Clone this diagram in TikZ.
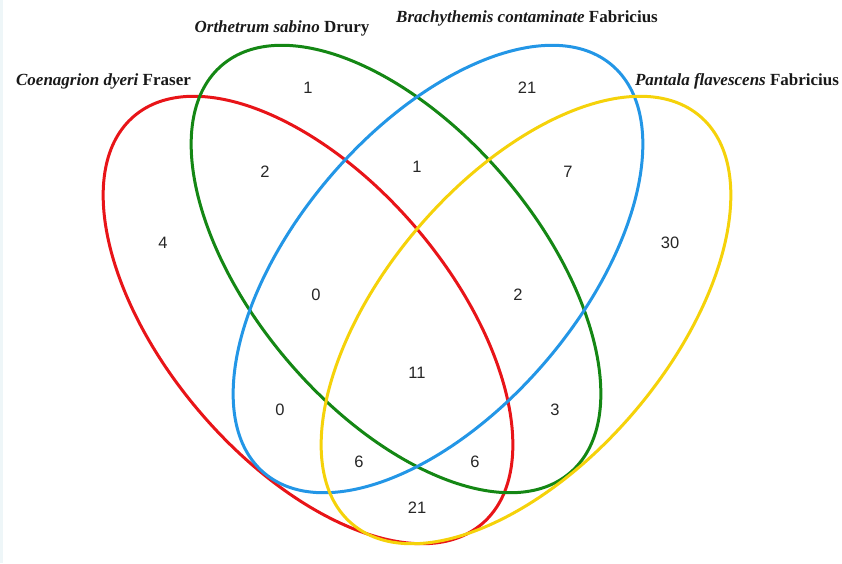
\documentclass[tikz,border=0pt]{standalone}
\usepackage{fontspec}
\setmainfont{Liberation Serif}
\newfontfamily\numfont{Liberation Sans}
\definecolor{vred}{RGB}{232,20,24}
\definecolor{vgreen}{RGB}{20,135,20}
\definecolor{vblue}{RGB}{35,150,230}
\definecolor{vyellow}{RGB}{245,210,10}
\definecolor{edgecyan}{RGB}{238,246,248}
\begin{document}
\begin{tikzpicture}[x=1pt,y=-1pt,
  set/.style={line width=3pt},
  num/.style={font=\numfont\fontsize{16.5}{18}\selectfont, text=black!85, inner sep=0pt},
  lab/.style={font=\fontsize{17}{20}\selectfont\bfseries, text=black!90, inner sep=0pt}]
\useasboundingbox (0,0) rectangle (842,563);
\fill[edgecyan] (0,0) rectangle (3,563);
% ellipses
\coordinate (cR) at (308,320);
\coordinate (cG) at (396,269);
\coordinate (cB) at (438,269);
\coordinate (cY) at (526,320);
\draw[set,vred]    [rotate around={-49.5:(cR)}] (cR) ellipse [x radius=268, y radius=142];
\draw[set,vgreen]  [rotate around={-49.5:(cG)}] (cG) ellipse [x radius=268, y radius=142];
\draw[set,vblue]   [rotate around={49.5:(cB)}] (cB) ellipse [x radius=268, y radius=142];
\draw[set,vyellow] [rotate around={49.5:(cY)}] (cY) ellipse [x radius=268, y radius=142];
% labels
\node[lab] (lR) at (103.5,81) {\itshape Coenagrion dyeri\/ \upshape Fraser};
\node[lab] (lG) at (282,28) {\itshape Orthetrum sabino\/ \upshape Drury};
\node[lab] (lB) at (527,18) {\itshape Brachythemis contaminate\/ \upshape Fabricius};
\node[lab] (lY) at (737,81) {\itshape Pantala flavescens\/ \upshape Fabricius};
% numbers
\node[num] (n1)  at (308,88) {1};
\node[num] (n2)  at (527,88) {21};
\node[num] (n3)  at (265,172) {2};
\node[num] (n4)  at (417,167) {1};
\node[num] (n5)  at (568,172) {7};
\node[num] (n6)  at (163,243) {4};
\node[num] (n7)  at (670,243) {30};
\node[num] (n8)  at (316,295) {0};
\node[num] (n9)  at (518,295) {2};
\node[num] (n10) at (417,373) {11};
\node[num] (n11) at (280,410) {0};
\node[num] (n12) at (555,410) {3};
\node[num] (n13) at (359,462) {6};
\node[num] (n14) at (475,462) {6};
\node[num] (n15) at (417,508) {21};
\end{tikzpicture}
\end{document}
